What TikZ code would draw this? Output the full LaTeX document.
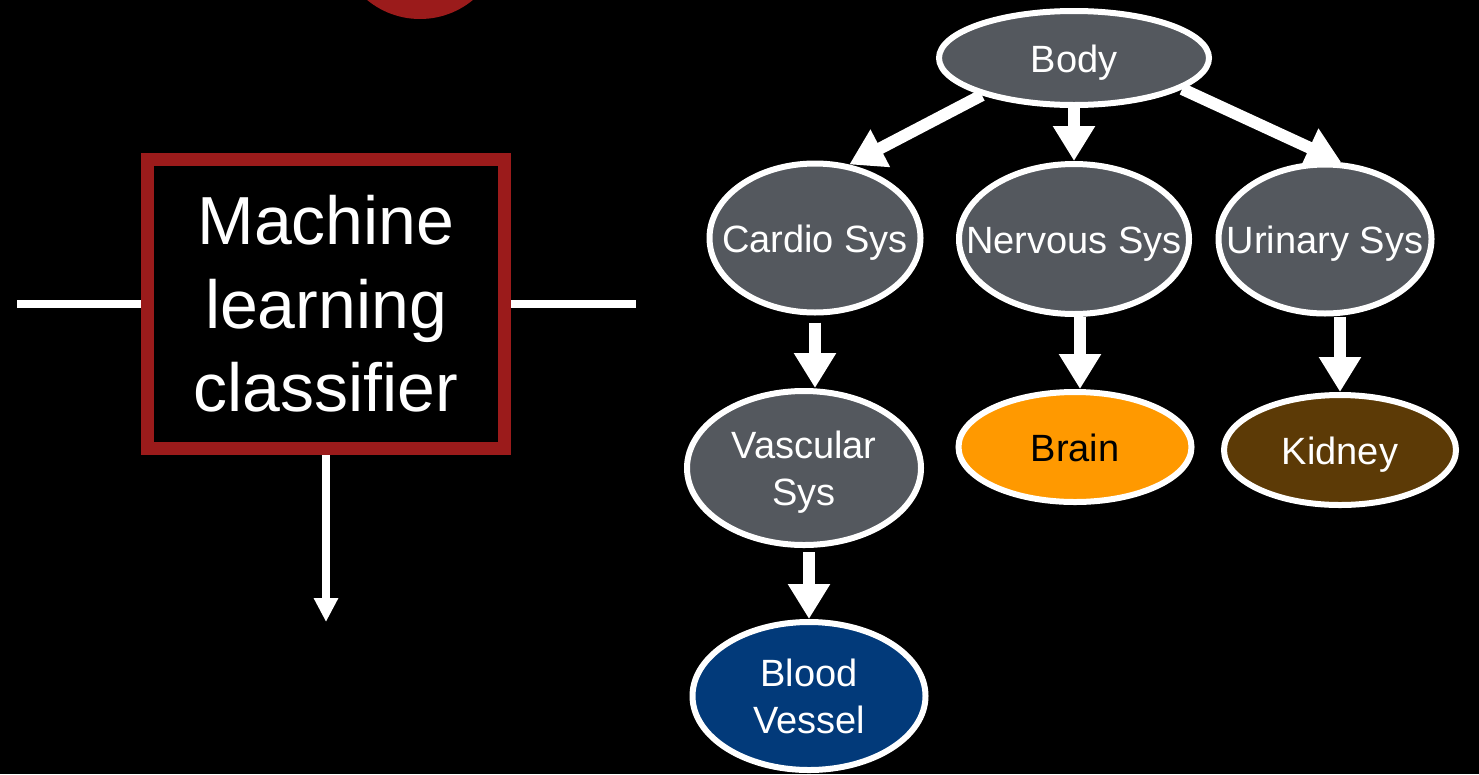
\documentclass[tikz,border=0pt]{standalone}
\usepackage{fontspec}
\setmainfont{Liberation Sans}
\usetikzlibrary{shapes.geometric,arrows.meta}
\definecolor{mlred}{HTML}{9B1B1B}
\definecolor{nodegray}{HTML}{54585E}
\definecolor{brainorange}{HTML}{FF9900}
\definecolor{kidneybrown}{HTML}{5C3A06}
\definecolor{bloodblue}{HTML}{023A7A}
\newcommand\ztext[1]{\makebox[0pt]{\raisebox{-5pt}[\height][\depth]{\begin{tabular}{@{}c@{}}#1\end{tabular}}}}
\begin{document}
\begin{tikzpicture}[x=1pt,y=-1pt,
  tree/.style={ellipse, draw=white, line width=6pt, inner sep=0pt, fill=nodegray,
    text=white, font=\fontsize{38}{47}\selectfont},
  bigarrow/.style={draw=white, line width=12pt, -{Triangle[length=35pt,width=40pt]}},
  thinline/.style={draw=white, line width=8pt},
  thinarrow/.style={draw=white, line width=8pt, -{Triangle[length=24pt,width=23pt]}},
  mlbox/.style={rectangle, draw=mlred, line width=13pt, minimum width=357pt,
    minimum height=289pt, inner sep=0pt, text=white, align=center,
    font=\fontsize{68}{83.5}\selectfont}]
\useasboundingbox (0,0) rectangle (1479,774);
\fill[black] (0,0) rectangle (1479,774);
% red circle at top, cut off
\fill[mlred] (420,-64) circle[radius=83pt];

% classifier box
\node[mlbox] (ml) at (326,304) {Machine\\learning\\classifier};
\coordinate (inl) at (17,304);
\coordinate (outr) at (636,304);
\coordinate (outd) at (326,622);
\draw[thinline] (inl) -- (ml.west);
\draw[thinline] (ml.east) -- (outr);
\draw[thinarrow] (ml.south) -- (outd);

% tree
\node[tree, minimum width=270pt, minimum height=94pt] (body) at (1074,58) {\ztext{Body}};
\node[tree, minimum width=211pt, minimum height=149pt] (cardio) at (815,238) {\ztext{Cardio Sys}};
\node[tree, minimum width=230pt, minimum height=150pt] (nervous) at (1074,239) {\ztext{Nervous Sys}};
\node[tree, minimum width=213pt, minimum height=149pt] (urinary) at (1325,239) {\ztext{Urinary Sys}};
\node[tree, minimum width=234pt, minimum height=154pt] (vascular) at (804,468) {\ztext{Vascular\\Sys}};
\node[tree, fill=brainorange, text=black, minimum width=233pt, minimum height=110pt] (brain) at (1075,447) {\ztext{Brain}};
\node[tree, fill=kidneybrown, minimum width=232pt, minimum height=110pt] (kidney) at (1340,450) {\ztext{Kidney}};
\node[tree, fill=bloodblue, minimum width=233pt, minimum height=148pt] (blood) at (809,696) {\ztext{Blood\\Vessel}};

\draw[bigarrow] (body.202) -- (cardio.65);
\draw[bigarrow] (body.south) -- (nervous.north);
\draw[bigarrow] (body.-16) -- (urinary.78);
\draw[bigarrow] ([yshift=-7pt]cardio.south) -- (cardio.south |- vascular.north);
\draw[bigarrow] ([yshift=-4pt]blood.north |- vascular.south) -- (blood.north);
\draw[bigarrow] ([xshift=5pt]brain.north |- nervous.south) -- ([xshift=5pt]brain.north);
\draw[bigarrow] (kidney.north |- urinary.south) -- (kidney.north);
\end{tikzpicture}
\end{document}
